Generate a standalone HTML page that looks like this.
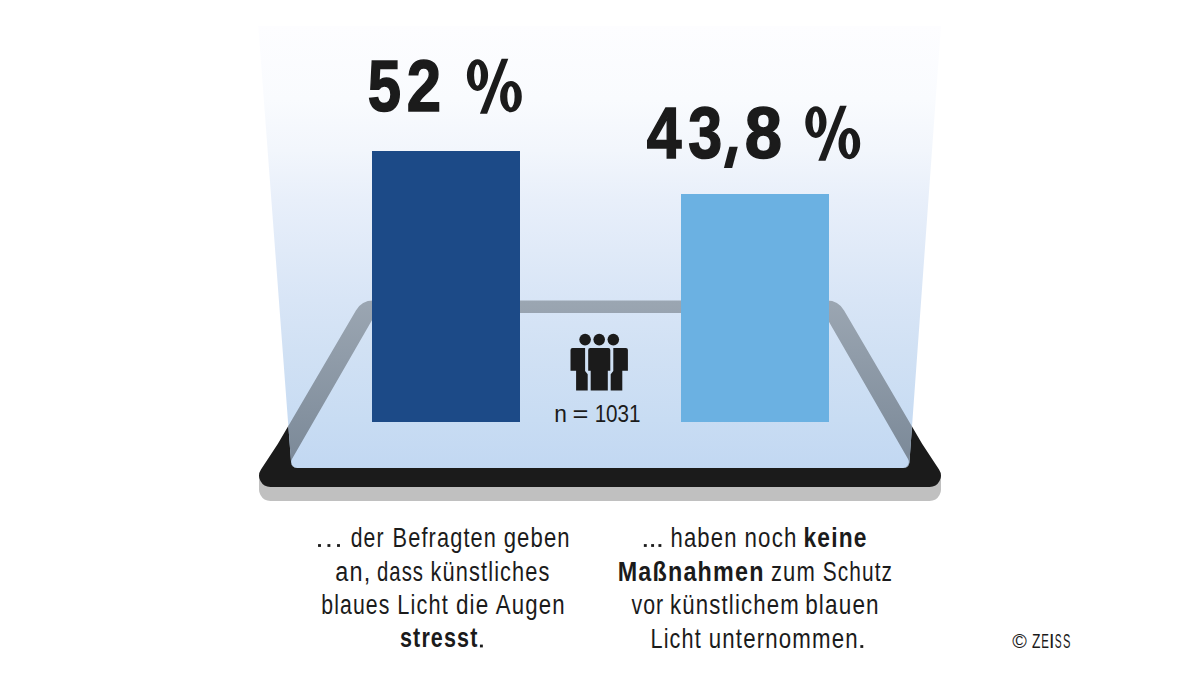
<!DOCTYPE html>
<html><head><meta charset="utf-8"><style>
html,body{margin:0;padding:0;background:#fff;width:1200px;height:675px;overflow:hidden}
svg{display:block}
text{font-family:"Liberation Sans",sans-serif;fill:#1b1b1b}
</style></head><body>
<svg width="1200" height="675" viewBox="0 0 1200 675">
<defs>
<linearGradient id="beamg" x1="0" y1="26" x2="0" y2="468" gradientUnits="userSpaceOnUse">
<stop offset="0.000" stop-color="#fdfdff"/>
<stop offset="0.167" stop-color="#f9fbfe"/>
<stop offset="0.281" stop-color="#f2f6fc"/>
<stop offset="0.394" stop-color="#e8effa"/>
<stop offset="0.507" stop-color="#e0eaf8"/>
<stop offset="0.620" stop-color="#d8e5f6"/>
<stop offset="0.733" stop-color="#d1e1f4"/>
<stop offset="0.891" stop-color="#c8dcf3"/>
<stop offset="1.000" stop-color="#c2d8f2"/>
</linearGradient>
<linearGradient id="frameg" x1="0" y1="300" x2="0" y2="468" gradientUnits="userSpaceOnUse">
<stop offset="0" stop-color="#9ba6b2"/>
<stop offset="1" stop-color="#7a8897"/>
</linearGradient>
<clipPath id="beamclip"><path d="M258.30,26.00 L941.00,26.00 L909.40,462.43 A6,6 0 0 1 903.42,468.00 L297.07,468.00 A6,6 0 0 1 291.08,462.45 Z"/></clipPath>
</defs>
<rect width="1200" height="675" fill="#fff"/>
<path d="M355.91,324.40 A20,20 0 0 1 373.18,314.50 L826.82,314.50 A20,20 0 0 1 844.09,324.40 L922.10,457.70 L939.02,483.50 A11.3,11.3 0 0 1 929.57,501.00 L270.43,501.00 A11.3,11.3 0 0 1 260.98,483.50 L277.90,457.70 Z" fill="#c0c0c0"/>
<rect x="259" y="476" width="682" height="14" fill="#c0c0c0"/>
<path d="M355.91,310.40 A20,20 0 0 1 373.18,300.50 L826.82,300.50 A20,20 0 0 1 844.09,310.40 L922.10,443.70 L939.02,469.50 A11.3,11.3 0 0 1 929.57,487.00 L270.43,487.00 A11.3,11.3 0 0 1 260.98,469.50 L277.90,443.70 Z" fill="#1b1b1b"/>
<path d="M258.30,26.00 L941.00,26.00 L909.40,462.43 A6,6 0 0 1 903.42,468.00 L297.07,468.00 A6,6 0 0 1 291.08,462.45 Z" fill="url(#beamg)"/>
<path d="M355.91,310.40 A20,20 0 0 1 373.18,300.50 L826.82,300.50 A20,20 0 0 1 844.09,310.40 L922.10,443.70 L939.02,469.50 A11.3,11.3 0 0 1 929.57,487.00 L270.43,487.00 A11.3,11.3 0 0 1 260.98,469.50 L277.90,443.70 Z M373.81,317.01 A8,8 0 0 1 380.74,313.00 L819.26,313.00 A8,8 0 0 1 826.19,317.01 L908.00,459.00 A6,6 0 0 1 902.80,468.00 L297.20,468.00 A6,6 0 0 1 292.00,459.00 Z" fill-rule="evenodd" fill="url(#frameg)" clip-path="url(#beamclip)"/>
<rect x="372" y="151" width="148" height="271" fill="#1c4a87"/>
<rect x="681" y="194" width="148" height="228" fill="#6bb1e2"/>
<g fill="#1b1b1b">
<circle cx="585.1" cy="339.6" r="5.8"/>
<circle cx="599.2" cy="339.6" r="5.8"/>
<circle cx="613.3" cy="339.6" r="5.8"/>
<path d="M570.5,350 Q570.5,348 572.5,348 L585.1,348 L585.1,371 L587.7,374.3 L587.7,390.4 L576.1,390.4 L576.1,370.8 L570.5,370.8 Z"/>
<path d="M627.9,350 Q627.9,348 625.9,348 L613.3,348 L613.3,371 L610.7,374.3 L610.7,390.4 L622.3,390.4 L622.3,370.8 L627.9,370.8 Z"/>
<path d="M588.2,350 Q588.2,348 590.2,348 L608.3,348 Q610.3,348 610.3,350 L610.3,370.8 L607.8,370.8 L607.8,390.4 L590.7,390.4 L590.7,370.8 L588.2,370.8 Z"/>
</g>
<text transform="matrix(0.9481 0 0 1 554.26 422.2)" font-size="24">n</text>
<text transform="matrix(1.1362 0 0 1 572.47 422.2)" font-size="24">=</text>
<text transform="matrix(0.8605 0 0 1 594.64 422.2)" font-size="24">1031</text>
<text transform="matrix(0.5981 0 0 0.7194 367.68 111.17)" font-size="100" font-weight="bold" stroke="#1b1b1b" stroke-width="2.2">5</text>
<text transform="matrix(0.6174 0 0 0.7271 406.73 111.38)" font-size="100" font-weight="bold" stroke="#1b1b1b" stroke-width="2.2">2</text>
<text transform="matrix(0.6242 0 0 0.7225 646.67 158.09)" font-size="100" font-weight="bold" stroke="#1b1b1b" stroke-width="2.2">4</text>
<text transform="matrix(0.6096 0 0 0.7207 688.21 157.78)" font-size="100" font-weight="bold" stroke="#1b1b1b" stroke-width="2.2">3</text>
<text transform="matrix(0.6699 0 0 0.7301 744.68 157.85)" font-size="100" font-weight="bold" stroke="#1b1b1b" stroke-width="2.2">8</text>
<g fill="#1b1b1b"><path d="M805.30,122.15 A10.6,15.85 0 1 0 826.50,122.15 A10.6,15.85 0 1 0 805.30,122.15 Z M812.50,122.15 A3.4,10.55 0 1 0 819.30,122.15 A3.4,10.55 0 1 0 812.50,122.15 Z M838.50,143.55 A10.85,15.65 0 1 0 860.20,143.55 A10.85,15.65 0 1 0 838.50,143.55 Z M845.70,143.80 A3.65,10.6 0 1 0 853.00,143.80 A3.65,10.6 0 1 0 845.70,143.80 Z" fill-rule="evenodd"/><path d="M840,105.8 L846.7,105.8 L825.5,160.7 L818.3,160.7 Z"/></g>
<g fill="#1b1b1b" transform="translate(-338.4 -47)"><path d="M805.30,122.15 A10.6,15.85 0 1 0 826.50,122.15 A10.6,15.85 0 1 0 805.30,122.15 Z M812.50,122.15 A3.4,10.55 0 1 0 819.30,122.15 A3.4,10.55 0 1 0 812.50,122.15 Z M838.50,143.55 A10.85,15.65 0 1 0 860.20,143.55 A10.85,15.65 0 1 0 838.50,143.55 Z M845.70,143.80 A3.65,10.6 0 1 0 853.00,143.80 A3.65,10.6 0 1 0 845.70,143.80 Z" fill-rule="evenodd"/><path d="M840,105.8 L846.7,105.8 L825.5,160.7 L818.3,160.7 Z"/></g>
<path d="M729.4,146.7 L737.8,146.7 L732.2,168 L723.9,168 Z" fill="#1b1b1b"/>
<text transform="matrix(0.7826 0 0 1 350.72 546.6)" font-size="27" letter-spacing="1.4">der</text>
<text transform="matrix(0.8056 0 0 1 392.59 546.6)" font-size="27" letter-spacing="1.4">Befragten</text>
<text transform="matrix(0.8180 0 0 1 503.68 546.6)" font-size="27" letter-spacing="1.4">geben</text>
<text transform="matrix(0.8680 0 0 1 335.22 580.5)" font-size="27" letter-spacing="1.4">an,</text>
<text transform="matrix(0.7526 0 0 1 376.95 580.5)" font-size="27" letter-spacing="1.4">dass</text>
<text transform="matrix(0.8069 0 0 1 430.49 580.5)" font-size="27" letter-spacing="1.4">künstliches</text>
<text transform="matrix(0.7881 0 0 1 321.22 613.7)" font-size="27" letter-spacing="1.4">blaues</text>
<text transform="matrix(0.8067 0 0 1 397.29 613.7)" font-size="27" letter-spacing="1.4">Licht</text>
<text transform="matrix(0.8329 0 0 1 455.96 613.7)" font-size="27" letter-spacing="1.4">die</text>
<text transform="matrix(0.8220 0 0 1 495.80 613.7)" font-size="27" letter-spacing="1.4">Augen</text>
<text transform="matrix(0.7979 0 0 1 400.00 647.1)" font-size="27" letter-spacing="1.4" font-weight="bold">stresst</text>
<text transform="matrix(0.8182 0 0 1 670.47 546.5)" font-size="27" letter-spacing="1.4">haben</text>
<text transform="matrix(0.8270 0 0 1 744.55 546.5)" font-size="27" letter-spacing="1.4">noch</text>
<text transform="matrix(0.8445 0 0 1 803.42 546.5)" font-size="27" letter-spacing="1.4" font-weight="bold">keine</text>
<text transform="matrix(0.8641 0 0 1 617.69 580.5)" font-size="27" letter-spacing="1.4" font-weight="bold">Maßnahmen</text>
<text transform="matrix(0.8157 0 0 1 770.88 580.5)" font-size="27" letter-spacing="1.4">zum</text>
<text transform="matrix(0.7735 0 0 1 822.83 580.5)" font-size="27" letter-spacing="1.4">Schutz</text>
<text transform="matrix(0.7899 0 0 1 631.40 613.7)" font-size="27" letter-spacing="1.4">vor</text>
<text transform="matrix(0.8222 0 0 1 670.06 613.7)" font-size="27" letter-spacing="1.4">künstlichem</text>
<text transform="matrix(0.8343 0 0 1 805.14 613.7)" font-size="27" letter-spacing="1.4">blauen</text>
<text transform="matrix(0.8033 0 0 1 650.49 647.5)" font-size="27" letter-spacing="1.4">Licht</text>
<text transform="matrix(0.8243 0 0 1 708.76 647.5)" font-size="27" letter-spacing="1.4">unternommen</text>
<rect x="318.05" y="544.10" width="2.9" height="2.8" fill="#1b1b1b"/>
<rect x="327.45" y="544.10" width="2.9" height="2.8" fill="#1b1b1b"/>
<rect x="337.05" y="544.10" width="2.9" height="2.8" fill="#1b1b1b"/>
<rect x="643.85" y="544.10" width="2.9" height="2.8" fill="#1b1b1b"/>
<rect x="651.15" y="544.10" width="2.9" height="2.8" fill="#1b1b1b"/>
<rect x="658.45" y="544.10" width="2.9" height="2.8" fill="#1b1b1b"/>
<rect x="479.95" y="644.60" width="2.9" height="2.8" fill="#1b1b1b"/>
<rect x="860.35" y="645.10" width="2.9" height="2.8" fill="#1b1b1b"/>
<text transform="matrix(1.0090 0 0 1 1012.35 647.5)" font-size="19.6">©</text>
<text transform="matrix(0.7070 0 0 1 1031.96 647.5)" font-size="19.6">Z</text>
<text transform="matrix(0.5835 0 0 1 1041.35 647.5)" font-size="19.6">E</text>
<text transform="matrix(1.0000 0 0 1 1049.01 647.5)" font-size="19.6">I</text>
<text transform="matrix(0.5244 0 0 1 1054.74 647.5)" font-size="19.6">S</text>
<text transform="matrix(0.5689 0 0 1 1062.90 647.5)" font-size="19.6">S</text>
</svg>
</body></html>
